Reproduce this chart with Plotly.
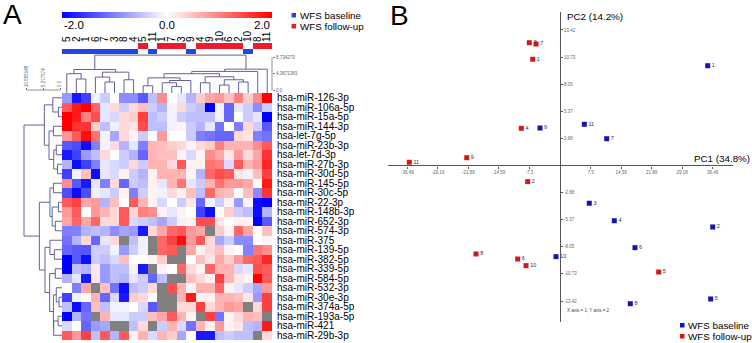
import numpy as np
import plotly.graph_objects as go

W, H = 752, 343
def fx(p): return p / W
def fy(p): return 1 - p / H

FONT = "Liberation Sans, Arial, sans-serif"

# ---------------- data ----------------
ROW_LABELS = ["hsa-miR-126-3p", "hsa-miR-106a-5p", "hsa-miR-15a-5p", "hsa-miR-144-3p",
              "hsa-let-7g-5p", "hsa-miR-23b-3p", "hsa-let-7d-3p", "hsa-miR-27b-3p",
              "hsa-miR-30d-5p", "hsa-miR-145-5p", "hsa-miR-30c-5p", "hsa-miR-22-3p",
              "hsa-miR-148b-3p", "hsa-miR-652-3p", "hsa-miR-574-3p", "hsa-miR-375",
              "hsa-miR-139-5p", "hsa-miR-382-5p", "hsa-miR-339-5p", "hsa-miR-584-5p",
              "hsa-miR-532-3p", "hsa-miR-30e-3p", "hsa-miR-374a-5p", "hsa-miR-193a-5p",
              "hsa-miR-421", "hsa-miR-29b-3p"]
COL_LABELS = ["5", "2", "1", "6", "7", "3", "8", "4", "5", "11", "1", "7", "3", "9",
              "4", "9", "10", "6", "2", "10", "8", "11"]
COL_GROUP = ["B"] * 8 + ["F", "B", "F", "F", "F", "B", "F", "F", "F", "F", "F", "B", "F", "F"]

N = None
EXPR = [
    [-0.8, -1.8, -1.5, -0.1, -0.4, 0.0, -0.9, -0.9, -1.3, -0.5, 0.9, 0.0, -0.2, -0.6, 0.4, 0.7, 0.8, 0.5, 1.0, 0.4, 0.9, 2.0],
    [1.3, 1.8, 2.0, 1.2, -0.2, 0.3, -0.4, 0.3, 0.5, -0.4, -0.6, -0.1, 0.3, -0.4, -0.5, -2.0, -0.1, -1.2, -0.2, -0.4, -0.9, -0.4],
    [2.0, 1.8, 1.0, 1.4, -0.2, -0.3, 0.3, 0.4, 1.5, -0.5, -0.4, -0.1, -0.4, -0.5, -0.5, -0.5, -0.1, -1.2, 0.0, -0.4, -0.2, -2.0],
    [2.0, 1.6, 1.6, 0.4, -0.5, -0.1, 0.3, 0.2, 1.4, -0.5, -0.5, -0.1, 0.1, -0.4, -0.6, -0.2, -1.1, 0.0, -1.0, 0.3, -0.4, -1.3],
    [0.8, 1.3, 1.9, 1.1, -0.1, -0.7, 0.3, 0.1, -0.4, 0.0, 0.8, 0.0, 0.0, -0.4, -1.0, -1.1, -1.2, -1.2, 0.3, 0.2, -1.0, -1.1],
    [-1.3, -1.4, -1.9, -1.0, -0.1, 0.3, -0.6, -0.2, -1.0, 0.6, 0.5, 0.4, 0.3, 0.1, 0.3, 0.4, 1.0, 0.6, 0.6, 0.6, 0.9, 1.3],
    [-1.8, -1.5, -0.8, -0.5, 0.3, 0.0, -0.4, -0.6, -1.2, 0.6, 0.5, 0.5, 0.1, -0.3, 0.1, 0.9, 0.7, 0.2, 0.8, 0.3, 0.7, 1.6],
    [-0.6, -1.9, -1.5, -1.0, -0.2, -0.3, -0.4, 0.3, -0.4, 0.6, 0.6, 0.3, 1.3, 0.1, 0.1, 1.1, 1.0, -0.3, 1.3, 0.6, 0.8, 1.7],
    [-1.5, -0.1, 0.5, -1.9, -0.2, -0.3, 0.1, -0.4, -0.6, 0.1, 0.6, 0.6, 0.6, 0.1, -0.6, 1.2, 1.4, 1.3, 0.2, -0.1, 0.5, 1.5],
    [0.9, -1.3, -1.8, -0.2, -1.0, 0.3, -1.2, -0.4, -0.5, 0.1, -0.2, 0.6, 1.1, -0.2, -0.4, 0.6, 1.1, 0.8, 0.8, 0.7, 0.0, 1.8],
    [-1.4, -1.9, -1.4, -0.1, -0.2, -0.4, 0.1, -1.0, -0.4, 0.1, -0.1, 0.3, 0.1, 0.5, -0.5, 1.2, 0.6, 0.5, 0.0, 0.5, -0.9, 1.6],
    [1.3, 1.5, 0.7, 0.8, -0.6, 0.5, 0.0, 1.3, 0.6, 0.1, -0.3, 0.0, -0.4, 0.2, -1.2, -0.1, -0.4, 0.1, -0.8, 0.1, -1.9, -2.0],
    [0.8, 1.3, 0.0, 0.8, 0.6, 0.3, 1.3, 0.3, 1.0, 0.9, 0.1, -0.2, 0.1, 0.0, -1.5, -1.9, 0.0, 0.4, -0.4, -0.5, -1.9, -0.6],
    [0.7, 1.2, 0.7, 1.2, 0.3, 0.3, 1.3, -0.3, -0.4, -0.5, -0.7, -0.4, -0.1, 0.1, 1.4, 1.4, 0.2, 0.0, 0.1, 0.1, -2.0, -1.3],
    [-1.0, -1.0, -0.6, -0.5, -0.6, -0.9, -0.7, -0.8, -1.8, 0.3, 0.7, 1.2, 1.3, 0.8, 0.7, N, 0.4, 0.1, 1.2, 0.7, 0.0, 0.5],
    [-1.1, -0.6, 0.3, -1.2, -0.2, 0.3, N, -0.5, -0.1, N, 1.2, 1.5, 1.9, 0.8, 1.3, 0.3, -0.7, -0.4, -0.9, -0.9, 0.0, 0.1],
    [-1.2, -1.3, -1.3, -0.4, -0.4, -0.1, -0.8, -0.4, -0.1, N, 1.2, 1.3, N, 0.7, 0.1, 0.3, 0.5, 0.1, 0.0, -1.0, 1.1, 0.9],
    [-2.0, -1.3, -1.9, -0.4, -0.5, -0.3, 0.5, 0.0, 0.0, 0.1, 0.4, N, N, 0.0, 0.5, 0.2, 0.7, 0.4, 0.8, 1.2, 1.3, 1.7],
    [-2.0, -0.5, -0.6, 0.2, -0.8, -0.5, -0.5, -0.1, -1.8, N, 0.1, 0.0, 1.2, 0.3, 0.1, 1.2, 0.6, 0.6, -0.3, -0.2, 1.4, 1.3],
    [-0.6, -0.2, -1.8, 0.2, -0.8, -0.5, -0.6, -0.2, -0.4, -1.2, -0.5, N, N, 0.5, 0.3, 0.1, 1.5, 0.6, 0.2, 0.1, 2.0, 1.3],
    [0.0, -1.0, 0.7, N, 0.5, -1.1, -1.9, -0.5, -0.4, 0.3, N, 1.4, 0.6, 0.1, 0.6, 0.6, 1.2, 0.1, -0.2, -0.4, -0.7, 0.8],
    [-1.5, -0.1, 0.0, 0.6, -1.2, -0.3, -1.8, 0.4, 0.3, 0.0, N, N, 0.6, 1.8, 0.1, 0.1, 0.6, 0.6, 0.5, 0.2, -0.8, 1.5],
    [-0.5, -1.9, -1.2, 0.5, -0.5, -0.1, -0.1, 0.0, -0.3, -1.3, N, N, 0.3, 0.3, 1.5, 0.3, 0.6, 0.8, 0.7, N, 0.3, 1.5],
    [-2.0, -0.6, -1.1, N, 0.6, -0.2, -0.2, -0.4, -0.4, 0.5, 0.7, 1.3, 0.6, 0.1, N, 1.5, -1.1, 0.1, 0.3, 0.6, 0.5, N],
    [-0.3, 0.0, -1.2, -0.8, -0.7, N, N, -0.5, 0.3, N, -0.4, 0.6, -0.3, -1.1, 0.6, 0.1, 0.8, 0.1, 0.2, -0.5, -0.6, 1.8],
    [1.3, 0.8, 1.5, -0.5, 1.3, -0.6, 1.3, 0.1, 0.6, -0.3, 0.6, 0.4, -0.7, 0.0, -1.8, -1.8, -0.5, -0.4, -0.5, -0.5, N, 0.3],
]

# dendrograms: (merge height, left, right); leaves are indices
COL_TREE = (9.3,
            (5.5,
             (4.4, 0, (3.0, 1, 2)),
             (4.8, (3.5, 3, (2.2, 4, 5)), (2.8, 6, 7))),
            (5.6,
             (5.0,
              (4.4,
               (3.3, (1.2, 8, 9), (2.6, (2.0, 10, (1.0, 11, 12)), 13)),
               (3.6, (2.0, 14, 15), (2.8, (1.4, 16, 17), (2.2, 18, 19)))),
              20),
             21))
ROW_TREE = (11.5,
            (5.0,
             (2.3, 0, (0.5, 1, 2)),
             (3.5, (2.1, 3, 4), (2.0, (1.2, 5, 6), (0.8, 7, 8)))),
            (6.6,
             (3.2, (2.1, 9, 10), (2.5, (0.5, 11, 12), (1.5, 13, 14))),
             (4.8,
              (3.2, 15, (1.8, 16, 17)),
              (3.3, (1.5, 18, 19),
               (2.1, (1.2, 20, (0.3, 21, 22)), (2.0, (0.6, 23, 24), 25))))))
COL_AXIS_TICKS = [0.0, 4.3671383, 8.734279]
COL_AXIS_TEXT = ["0.0", "4.3671383", "8.734279"]
ROW_AXIS_TICKS = [0.0, 5.277574, 10.555148]
ROW_AXIS_TEXT = ["0.0", "5.277574", "10.555148"]

# PCA
BASE_LABELS = ["1", "11", "7", "9", "3", "4", "2", "6", "5", "8", "10"]
BASE_PC1 = [35.29, 5.81, 11.16, -4.78, 7.00, 12.97, 36.49, 17.92, 36.01, 16.80, -0.96]
BASE_PC2 = [9.88, 4.08, 2.65, 3.71, -3.74, -5.47, -6.09, -8.14, -13.22, -13.69, -9.03]
FU_LABELS = ["3", "7", "1", "4", "9", "11", "2", "8", "6", "10", "5"]
FU_PC1 = [-7.34, -5.73, -6.52, -9.25, -22.29, -36.01, -7.72, -20.07, -10.11, -8.12, 23.58]
FU_PC2 = [12.16, 12.03, 10.52, 3.68, 0.77, 0.32, -1.60, -8.76, -9.26, -9.92, -10.55]
PC1_TICKS = [-36.49, -29.19, -21.89, -14.59, -7.3, 7.3, 14.59, 21.89, 29.18, 36.49]
PC2_TICKS = [13.42, 10.73, 8.05, 5.37, 2.68, -2.68, -5.37, -8.05, -10.73, -13.42]

# ---------------- styles ----------------
BLUE_G, RED_G = "#2645e0", "#ec1c2c"
BLUE_P, RED_P = "#1414b4", "#d41818"
DEND = "#62629a"
AXC = "#555555"

# ---------------- helpers ----------------
def dendro(tree, base):
    segs_p, segs_h = [], []
    def walk(node):
        if isinstance(node, int):
            return float(node), base
        h, l, r = node
        pl, hl = walk(l)
        pr, hr = walk(r)
        segs_p.extend([pl, pl, pr, pr, None])
        segs_h.extend([hl, h, h, hr, None])
        return (pl + pr) / 2, h
    walk(tree)
    return segs_p, segs_h

nrow, ncol = len(ROW_LABELS), len(COL_LABELS)
Z = np.array([[np.nan if v is None else v for v in r] for r in EXPR], dtype=float)
MISSING = np.where(np.isnan(Z), 1.0, np.nan)
GROUPZ = [[1 if g == "F" else None for g in COL_GROUP],
          [0 if g == "B" else None for g in COL_GROUP]]

fig = go.Figure()

fig.add_trace(go.Heatmap(z=MISSING, x=list(range(ncol)), y=list(range(nrow)),
                         colorscale=[[0, "#808080"], [1, "#808080"]], showscale=False,
                         hoverinfo="skip", xaxis="x", yaxis="y"))
fig.add_trace(go.Heatmap(z=Z, x=list(range(ncol)), y=list(range(nrow)),
                         colorscale=[[0, "#0000ff"], [0.5, "#ffffff"], [1, "#ff0000"]],
                         zmin=-2, zmax=2, xaxis="x", yaxis="y",
                         colorbar=dict(orientation="h", x=fx(167), xanchor="center",
                                       y=fy(12), yanchor="top", len=210 / W, lenmode="fraction",
                                       thickness=6, outlinewidth=0, xpad=0, ypad=0,
                                       showticklabels=False, ticks="")))
fig.add_trace(go.Heatmap(z=GROUPZ, x=list(range(ncol)), y=[0, 1],
                         colorscale=[[0, BLUE_G], [1, RED_G]], zmin=0, zmax=1,
                         showscale=False, hoverinfo="skip", xaxis="x2", yaxis="y2"))
cp, ch = dendro(COL_TREE, -0.7)
fig.add_trace(go.Scatter(x=cp, y=ch, mode="lines", line=dict(color=DEND, width=1),
                         hoverinfo="skip", xaxis="x3", yaxis="y3", showlegend=False))
rp, rh = dendro(ROW_TREE, -0.64)
fig.add_trace(go.Scatter(x=rh, y=rp, mode="lines", line=dict(color=DEND, width=1),
                         hoverinfo="skip", xaxis="x4", yaxis="y4", showlegend=False))
fig.add_trace(go.Scatter(x=BASE_PC1, y=BASE_PC2, mode="markers+text", text=BASE_LABELS,
                         textposition="middle right",
                         textfont=dict(size=5.5, color="#333333", family=FONT),
                         marker=dict(symbol="square", size=5, color=BLUE_P),
                         xaxis="x5", yaxis="y5", showlegend=False))
fig.add_trace(go.Scatter(x=FU_PC1, y=FU_PC2, mode="markers+text", text=FU_LABELS,
                         textposition="middle right",
                         textfont=dict(size=5.5, color="#333333", family=FONT),
                         marker=dict(symbol="square", size=5, color=RED_P),
                         xaxis="x5", yaxis="y5", showlegend=False))

hm_x = [fx(62), fx(272)]
hm_y = [fy(340), fy(93)]
xr = [-0.5, ncol - 0.5]
yr = [nrow - 0.5, -0.5]

pc_xdom = [fx(388), fx(733)]
pc_ydom = [fy(322), fy(12)]
pc_xr = [-41.1, 41.34]
pc_yr = [-15.5, 15.2]
x0pos = pc_xdom[0] + (0 - pc_xr[0]) / (pc_xr[1] - pc_xr[0]) * (pc_xdom[1] - pc_xdom[0])
y0pos = pc_ydom[0] + (0 - pc_yr[0]) / (pc_yr[1] - pc_yr[0]) * (pc_ydom[1] - pc_ydom[0])

small = dict(size=4.5, color="#666666", family=FONT)
noax = dict(visible=False, showgrid=False, zeroline=False)

fig.update_layout(
    width=W, height=H, margin=dict(l=0, r=0, t=0, b=0, autoexpand=False),
    paper_bgcolor="white", plot_bgcolor="rgba(0,0,0,0)",
    font=dict(family=FONT, color="black"), showlegend=False,
    xaxis=dict(domain=hm_x, range=xr, anchor="y", **noax),
    yaxis=dict(domain=hm_y, range=yr, anchor="x", side="right", tickmode="array",
               tickvals=list(range(nrow)), ticktext=ROW_LABELS, ticks="", showgrid=False,
               zeroline=False, showline=False, ticklabelstandoff=4,
               tickfont=dict(size=10, family=FONT, color="black")),
    xaxis2=dict(domain=hm_x, range=xr, anchor="y2", side="top", tickmode="array",
                tickvals=list(range(ncol)), ticktext=COL_LABELS, tickangle=-90, ticks="",
                showgrid=False, zeroline=False, showline=False,
                tickfont=dict(size=10, family=FONT, color="black")),
    yaxis2=dict(domain=[fy(54), fy(43)], range=[1.5, -0.5], anchor="x2", **noax),
    xaxis3=dict(domain=hm_x, range=xr, anchor="y3", **noax),
    yaxis3=dict(domain=[fy(93), fy(54)], range=[-0.7, 9.6], anchor="x3", side="right",
                tickmode="array", tickvals=COL_AXIS_TICKS, ticktext=COL_AXIS_TEXT,
                ticks="outside", ticklen=2, tickcolor="#777", tickwidth=0.8,
                showgrid=False, zeroline=False, showline=False, tickfont=small),
    xaxis4=dict(domain=[fx(20), fx(62)], range=[12.78, -0.64], anchor="free", position=fy(90),
                side="top", tickmode="array", tickvals=ROW_AXIS_TICKS, ticktext=ROW_AXIS_TEXT,
                tickangle=-90, ticks="outside", ticklen=2, tickcolor="#777", tickwidth=0.8,
                showgrid=False, zeroline=False, showline=False, tickfont=small),
    yaxis4=dict(domain=hm_y, range=yr, anchor="x4", **noax),
    xaxis5=dict(domain=pc_xdom, range=pc_xr, anchor="free", position=y0pos, tickmode="array",
                tickvals=PC1_TICKS, ticktext=[f"{v:g}" for v in PC1_TICKS], ticks="outside",
                ticklen=2, tickcolor=AXC, showline=True, linecolor=AXC, linewidth=1.3,
                showgrid=False, zeroline=False, tickfont=small),
    yaxis5=dict(domain=pc_ydom, range=pc_yr, anchor="free", position=x0pos, side="right",
                tickmode="array", tickvals=PC2_TICKS, ticktext=[f"{v:.2f}" for v in PC2_TICKS],
                ticks="outside", ticklen=2, tickcolor=AXC, showline=True, linecolor=AXC,
                linewidth=1.3, showgrid=False, zeroline=False, tickfont=small),
)

shapes = [
    dict(type="line", xref="x3 domain", x0=1, x1=1, yref="y3", y0=COL_AXIS_TICKS[0],
         y1=COL_AXIS_TICKS[-1], line=dict(color="#777", width=0.8)),
    dict(type="line", xref="x4", x0=ROW_AXIS_TICKS[0], x1=ROW_AXIS_TICKS[-1], yref="paper",
         y0=fy(90), y1=fy(90), line=dict(color="#777", width=0.8)),
]
for (x0, y0, c) in [(291.5, 13, BLUE_G), (291.5, 24, RED_G), (680, 323, "#1010d0"), (680, 334, "#e01010")]:
    shapes.append(dict(type="rect", xref="paper", yref="paper", x0=fx(x0), x1=fx(x0 + 4.5),
                       y0=fy(y0 + 4.5), y1=fy(y0), line=dict(width=0), fillcolor=c))
fig.update_layout(shapes=shapes)

def ann(text, x, y, size, xanchor="left", yanchor="middle", color="black", **kw):
    return dict(text=text, x=fx(x), y=fy(y), xref="paper", yref="paper", showarrow=False,
                xanchor=xanchor, yanchor=yanchor, font=dict(size=size, color=color, family=FONT), **kw)

annotations = [
    ann("A", 1, 14, 28),
    ann("B", 388, 15, 28),
    ann("-2.0", 62, 25, 11.5),
    ann("0.0", 167, 25, 11.5, xanchor="center"),
    ann("2.0", 272, 25, 11.5, xanchor="right"),
    ann("WFS baseline", 298, 15.5, 9.8),
    ann("WFS follow-up", 298, 26.5, 9.8),
    ann("WFS baseline", 686, 325.5, 9.8),
    ann("WFS follow-up", 686, 336.5, 9.8),
    ann("PC1 (34.8%)", 752, 158.5, 9.8, xanchor="right"),
    ann("PC2 (14.2%)", 565, 16, 9.8),
    ann("X axis = 1, Y axis = 2", 565, 310.5, 4.5, color="#444444"),
]
fig.update_layout(annotations=annotations)

fig.write_html("out.html", config={"displayModeBar": False},
               post_script="document.body.style.margin='0';document.body.style.overflow='hidden';")
